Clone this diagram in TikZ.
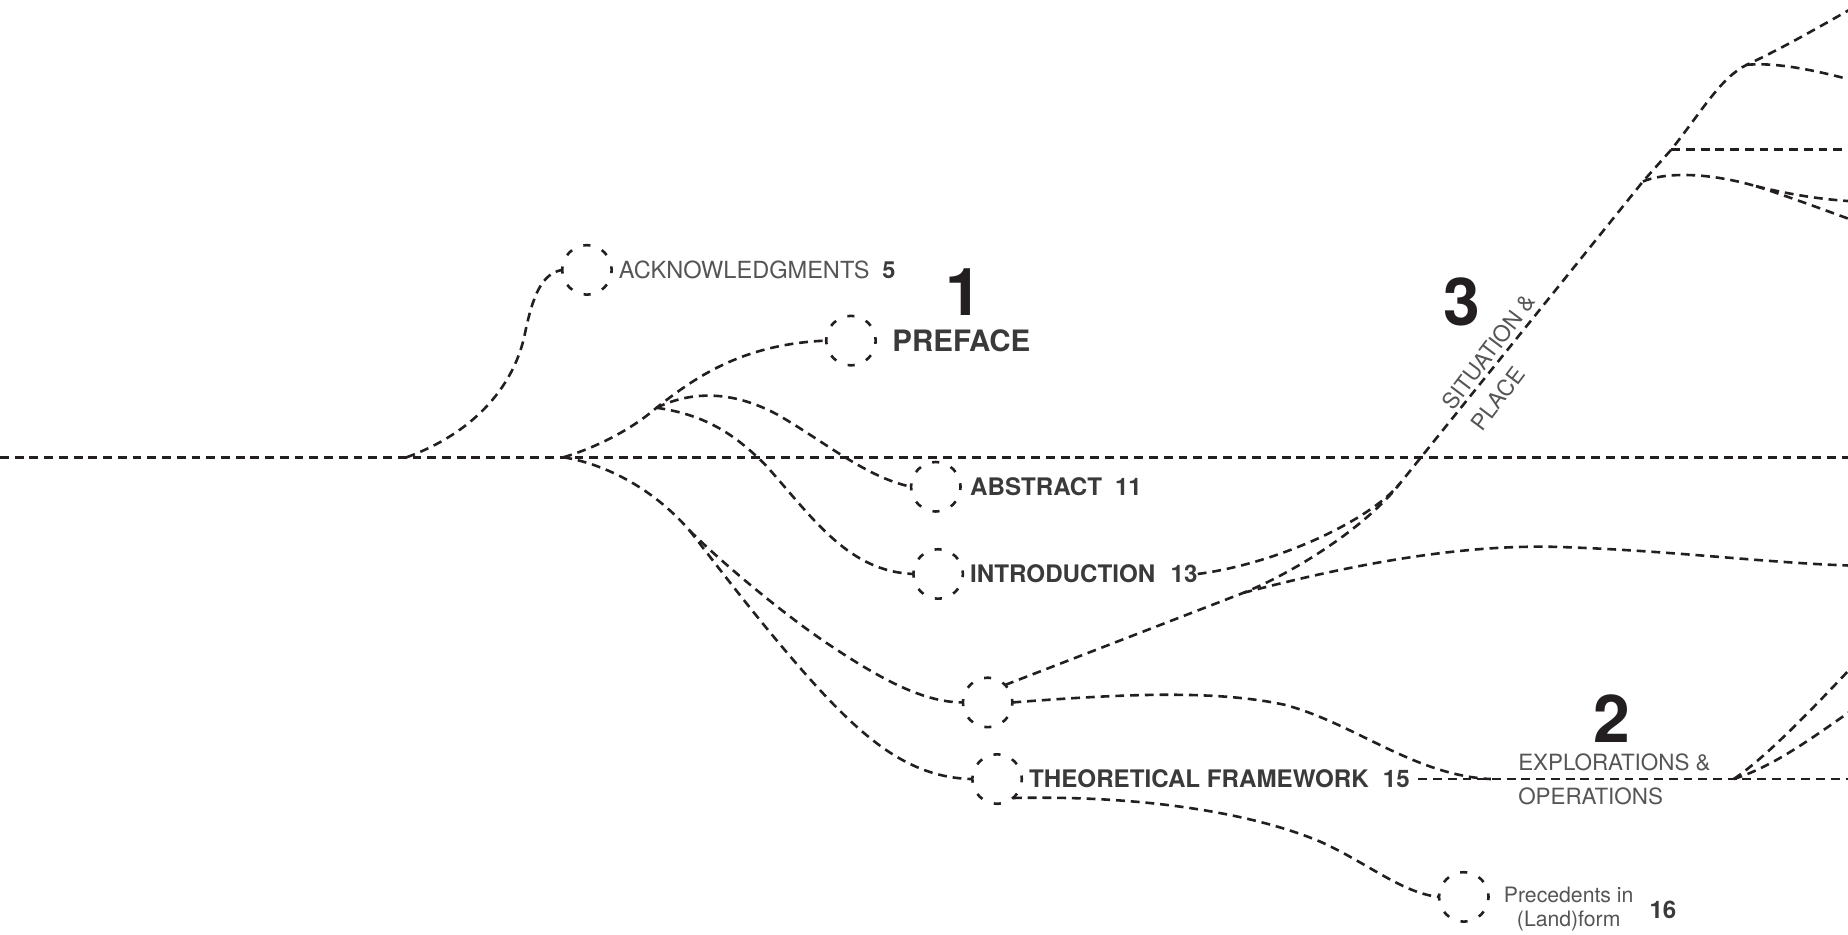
\documentclass[tikz,border=0pt]{standalone}
\usepackage{fontspec}
\setmainfont{TeX Gyre Heros}
\usetikzlibrary{calc}
\definecolor{ink}{HTML}{231F20}
\definecolor{labelc}{HTML}{3A3A3A}
\definecolor{lightc}{HTML}{555555}
\begin{document}
\begin{tikzpicture}[x=1pt,y=-1pt,
  trail/.style={draw=ink, line width=2.2pt, dash pattern=on 7.5pt off 5pt},
  hub/.style={circle, draw=ink, line width=2.2pt, dash pattern=on 6pt off 10.5pt, dash phase=3pt, minimum size=42pt, inner sep=0pt, outer sep=0pt},
  boldlbl/.style={anchor=west, text=labelc, font=\bfseries\fontsize{20.5}{24}\selectfont, inner sep=0pt},
  lightlbl/.style={anchor=west, text=lightc, font=\fontsize{19}{22}\selectfont, inner sep=0pt},
  smalllbl/.style={text=lightc, font=\fontsize{18}{21}\selectfont, inner sep=0pt},
  bignum/.style={text=ink, font=\bfseries\fontsize{56}{60}\selectfont, inner sep=0pt}
]
\useasboundingbox (0,0) rectangle (1568,793);
\clip (0,0) rectangle (1568,793);

% hubs
\node[hub] (ack) at (498,229) {};
\node[hub] (pre) at (722,289) {};
\node[hub] (abs) at (794,413) {};
\node[hub] (intro) at (796,487) {};
\node[hub] (mid) at (838,596) {};
\node[hub] (tf) at (846,661) {};
\node[hub] (prec) at (1242,761) {};

% labels
\node[lightlbl, font=\fontsize{20}{24}\selectfont] (ackt) at (525,229) {ACKNOWLEDGMENTS\hspace{11pt}{\color{labelc}\bfseries 5}};
\node[boldlbl, font=\bfseries\fontsize{25}{29}\selectfont] (pret) at (757,289) {PREFACE};
\node[boldlbl] (abst) at (823,413) {ABSTRACT\hspace{11pt}11};
\node[boldlbl] (introt) at (823,487) {INTRODUCTION\hspace{13pt}13};
\node[boldlbl] (tft) at (873,661) {THEORETICAL FRAMEWORK\hspace{12pt}15};
\node[bignum] (n1) at (818,248) {1};
\node[bignum] (n3) at (1240,256) {3};
\node[bignum] (n2) at (1368,610) {2};
\node[lightlbl] (e1) at (1288,647) {EXPLORATIONS \&};
\node[lightlbl] (e2) at (1288,676) {OPERATIONS};
\node[lightlbl, font=\fontsize{19}{30}\selectfont, align=left, rotate=53] (sit) at (1240,354) {SITUATION \&\\PLACE};
\node[smalllbl, anchor=center] (p1) at (1331,759) {Precedents in};
\node[smalllbl, anchor=base] (p2) at (1331,786) {(Land)form};
\node[boldlbl, anchor=center] (p16) at (1411,772) {16};

% junctions and free ends
\coordinate (W) at (0,388);
\coordinate (E) at (1568,388);
\coordinate (j1) at (345,388);
\coordinate (j2) at (478,388);
\coordinate (j3) at (557,346);
\coordinate (j4) at (585,450);
\coordinate (j5) at (1055,503);
\coordinate (m) at (1188,410);
\coordinate (t1) at (1394,154);
\coordinate (j6) at (1418,127);
\coordinate (j7) at (1482,55);
\coordinate (j8) at (1490,158);
\coordinate (j9) at (1471,661);
\coordinate (j10) at (1265,661);
\coordinate (eTop) at (1575,5);
\coordinate (eTop2) at (1575,69);
\coordinate (eH) at (1568,127);
\coordinate (eB1) at (1575,171);
\coordinate (eB2) at (1575,188);
\coordinate (eC) at (1575,480);
\coordinate (eTF) at (1568,661);
\coordinate (eL1) at (1575,562);
\coordinate (eL2) at (1575,600);
\coordinate (tfs) at ([xshift=7pt]tft.east);

% connectors
\draw[trail] (W) -- (E);
\draw[trail] (j1) .. controls (400,368) and (435,330) .. (445,285) .. controls (452,250) and (460,232) .. (ack.west);
\draw[trail] (j2) .. controls (505,380) and (535,365) .. (j3) .. controls (590,320) and (630,292) .. (pre.west);
\draw[trail] (j3) .. controls (590,330) and (625,333) .. (660,352) .. controls (700,375) and (735,405) .. (abs.west);
\draw[trail] (j3) .. controls (600,352) and (625,370) .. (650,395) .. controls (690,440) and (720,485) .. (intro.west);
\draw[trail] (j2) .. controls (510,393) and (552,412) .. (j4);
\draw[trail] (j4) .. controls (615,480) and (670,525) .. (705,548) .. controls (750,578) and (785,596) .. (mid.west);
\draw[trail] (j4) .. controls (610,482) and (640,522) .. (680,568) .. controls (730,625) and (770,660) .. (tf.west);

\draw[trail] (mid.45) -- (j5) .. controls (1100,485) and (1160,446) .. (m) -- (t1) -- (j6) .. controls (1445,93) and (1460,66) .. (j7) .. controls (1510,42) and (1540,25) .. (eTop);
\draw[trail] (introt.east) .. controls (1085,478) and (1163,441) .. (m);
\draw[trail] (j5) .. controls (1150,478) and (1240,462) .. (1320,464) .. controls (1420,467) and (1500,478) .. (eC);
\draw[trail] (j6) -- (eH);
\draw[trail] (j7) .. controls (1505,53) and (1535,58) .. (eTop2);
\draw[trail] (t1) .. controls (1410,147) and (1445,145) .. (j8);
\draw[trail] (j8) .. controls (1515,164) and (1540,169) .. (eB1);
\draw[trail] (j8) .. controls (1515,166) and (1545,177) .. (eB2);

\draw[trail] (tfs) -- (eTF);
\draw[trail] (mid.east) .. controls (950,589) and (1030,585) .. (1090,598) .. controls (1150,614) and (1200,658) .. (j10);
\draw[trail] (j9) .. controls (1495,645) and (1530,610) .. (eL1);
\draw[trail] (j9) .. controls (1505,650) and (1535,628) .. (eL2);
\draw[trail] (tf.-50) .. controls (950,675) and (1050,685) .. (1120,714) .. controls (1160,732) and (1190,758) .. (prec.west);
\end{tikzpicture}
\end{document}
